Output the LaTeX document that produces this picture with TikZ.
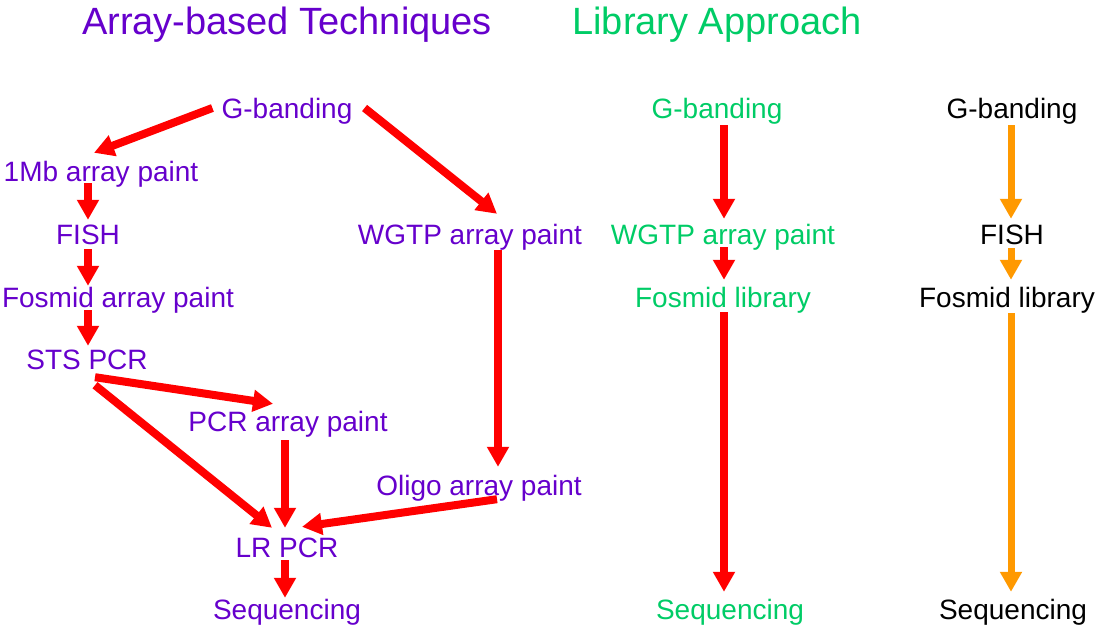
\documentclass[tikz,border=0pt]{standalone}
\usepackage{fontspec}
\setmainfont{Liberation Sans}
\usetikzlibrary{arrows.meta,calc}
\definecolor{techpurple}{HTML}{6600CC}
\definecolor{libgreen}{HTML}{00CC66}
\definecolor{flowred}{HTML}{FF0000}
\definecolor{floworange}{HTML}{FF9900}
\tikzset{
  lbl/.style={inner sep=0pt, anchor=base, text height=20pt, text depth=6pt,
              font=\fontsize{28}{32}\selectfont},
  purplelbl/.style={lbl, text=techpurple},
  greenlbl/.style={lbl, text=libgreen},
  blacklbl/.style={lbl, text=black},
  heading/.style={inner sep=0pt, anchor=base, font=\fontsize{38}{44}\selectfont},
  redflow/.style={draw=flowred, line width=8pt,
                  -{Triangle[length=20pt,width=21pt]}},
  orangeflow/.style={draw=floworange, line width=7pt,
                  -{Triangle[length=20pt,width=21pt]}}
}
\begin{document}
\begin{tikzpicture}[x=1pt,y=-1pt]
\useasboundingbox (0,0) rectangle (1095,627);

% headings
\node[heading, text=techpurple] (hA) at (287,34) {Array-based Techniques};
\node[heading, text=libgreen] (hB) at (717,34) {Library Approach};

% array-based techniques
\node[purplelbl] (gA)    at (287,118) {G-banding};
\node[purplelbl] (mb)    at (101,181) {1Mb array paint};
\node[purplelbl] (fishA) at (88,244)  {FISH};
\node[purplelbl] (fosA)  at (118,307) {Fosmid array paint};
\node[purplelbl] (sts)   at (87,369)  {STS PCR};
\node[purplelbl] (wgA)   at (470,244) {WGTP array paint};
\node[purplelbl] (pcrA)  at (288,431) {PCR array paint};
\node[purplelbl] (oligo) at (479,495) {Oligo array paint};
\node[purplelbl] (lr)    at (287,557) {LR PCR};
\node[purplelbl] (seqA)  at (287,619) {Sequencing};

% library approach
\node[greenlbl] (gB)   at (717,118) {G-banding};
\node[greenlbl] (wgB)  at (723,244) {WGTP array paint};
\node[greenlbl] (fosB) at (723,307) {Fosmid library};
\node[greenlbl] (seqB) at (730,619) {Sequencing};

% FISH route
\node[blacklbl] (gC)    at (1012,118) {G-banding};
\node[blacklbl] (fishC) at (1012,244) {FISH};
\node[blacklbl] (fosC)  at (1007,307) {Fosmid library};
\node[blacklbl] (seqC)  at (1013,619) {Sequencing};

% connectors, array-based
\draw[redflow] ($(gA.west)+(-9,-3)$) -- ($(mb.north)+(-7,-8)$);
\draw[redflow] ($(gA.east)+(12,-3)$) -- ($(wgA.north)+(27,-10)$);
\draw[redflow] ($(mb.south)+(-13,-4)$) -- ($(fishA.north)+(0,-4)$);
\draw[redflow] ($(fishA.south)+(0,-1)$) -- ($(fosA.north)+(-30,-1)$);
\draw[redflow] ($(fosA.south)+(-30,-3)$) -- ($(sts.north)+(1,-3)$);
\draw[redflow] ($(sts.south)+(8,2)$) -- ($(pcrA.north)+(-15,-7)$);
\draw[redflow] ($(sts.south)+(8,10)$) -- ($(lr.north)+(-15,-9)$);
\draw[redflow] ($(pcrA.south)+(-3,3)$) -- ($(lr.north)+(-2,-9)$);
\draw[redflow] ($(wgA.south)+(28,0)$) -- ($(oligo.north)+(19,-8)$);
\draw[redflow] ($(oligo.south)+(18,-2)$) -- ($(lr.north)+(15,-10)$);
\draw[redflow] ($(lr.south)+(-2,-3)$) -- ($(seqA.north)+(-2,-1)$);

% connectors, library approach
\draw[redflow] ($(gB.south)+(7,1)$) -- ($(wgB.north)+(1,-5)$);
\draw[redflow] ($(wgB.south)+(1,-3)$) -- ($(fosB.north)+(1,-7)$);
\draw[redflow] ($(fosB.south)+(1,-1)$) -- ($(seqB.north)+(-6,-7)$);

% connectors, FISH route
\draw[orangeflow] ($(gC.south)+(-1,1)$) -- ($(fishC.north)+(-1,-5)$);
\draw[orangeflow] ($(fishC.south)+(-1,-2)$) -- ($(fosC.north)+(4,-7)$);
\draw[orangeflow] ($(fosC.south)+(4,0)$) -- ($(seqC.north)+(-2,-7)$);
\end{tikzpicture}
\end{document}
